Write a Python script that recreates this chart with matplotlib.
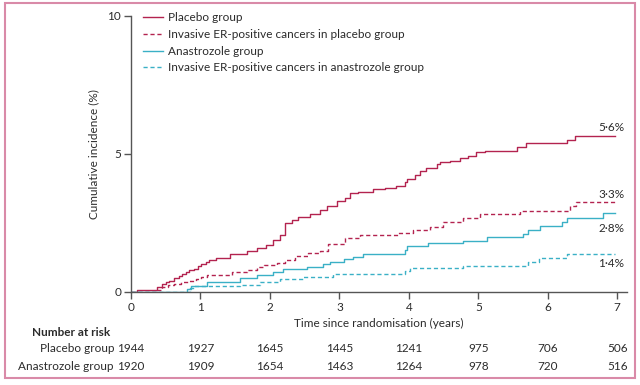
import matplotlib
matplotlib.use("Agg")
import matplotlib.pyplot as plt
import matplotlib.transforms as mtransforms
from matplotlib.patches import Rectangle

plt.rcParams['font.family'] = ['Lato', 'DejaVu Sans']

# ---- data ----
placebo_t = [0, 0.08, 0.38, 0.44, 0.51, 0.55, 0.62, 0.69, 0.74, 0.79, 0.84, 0.91, 0.96, 1.01, 1.08, 1.13,
             1.22, 1.43, 1.67, 1.81, 1.94, 2.05, 2.15, 2.22, 2.32, 2.41, 2.58, 2.72, 2.82, 2.96, 3.08,
             3.15, 3.27, 3.49, 3.66, 3.82, 3.94, 3.98, 4.09, 4.16, 4.25, 4.40, 4.45, 4.59, 4.73, 4.85,
             4.97, 5.09, 5.55, 5.69, 6.27, 6.39, 6.97]
placebo_v = [0, 0.06, 0.19, 0.29, 0.36, 0.41, 0.50, 0.59, 0.65, 0.71, 0.79, 0.85, 0.93, 1.00, 1.09, 1.16,
             1.23, 1.37, 1.49, 1.59, 1.71, 1.90, 2.08, 2.50, 2.62, 2.72, 2.84, 2.96, 3.12, 3.30, 3.42,
             3.58, 3.64, 3.72, 3.78, 3.85, 4.00, 4.09, 4.24, 4.38, 4.48, 4.63, 4.72, 4.75, 4.84, 4.93,
             5.06, 5.12, 5.27, 5.39, 5.52, 5.66, 5.66]

placebo_er_t = [0, 0.38, 0.44, 0.53, 0.62, 0.72, 0.84, 0.94, 1.01, 1.10, 1.45, 1.67, 1.81, 1.91, 2.10,
                2.22, 2.36, 2.55, 2.72, 2.84, 3.08, 3.29, 3.85, 4.06, 4.30, 4.49, 4.78, 5.02, 5.60,
                6.32, 6.41, 6.97]
placebo_er_v = [0, 0.07, 0.17, 0.24, 0.29, 0.36, 0.41, 0.47, 0.53, 0.61, 0.72, 0.81, 0.89, 0.99, 1.05,
                1.17, 1.30, 1.42, 1.50, 1.74, 1.94, 2.07, 2.15, 2.25, 2.37, 2.52, 2.67, 2.81, 2.93,
                3.12, 3.27, 3.27]

anas_t = [0, 0.80, 0.86, 1.10, 1.57, 1.81, 2.05, 2.19, 2.53, 2.77, 2.87, 3.06, 3.20, 3.34, 3.94, 3.98,
          4.28, 4.78, 5.12, 5.64, 5.72, 5.89, 6.20, 6.27, 6.80, 6.97]
anas_v = [0, 0.12, 0.23, 0.36, 0.49, 0.62, 0.72, 0.84, 0.92, 1.02, 1.10, 1.19, 1.28, 1.38, 1.52, 1.68,
          1.76, 1.86, 1.99, 2.10, 2.23, 2.40, 2.52, 2.68, 2.86, 2.86]

anas_er_t = [0, 0.85, 0.90, 1.57, 1.86, 2.14, 2.48, 2.91, 3.95, 4.02, 4.78, 5.72, 5.88, 6.27, 6.97]
anas_er_v = [0, 0.13, 0.20, 0.27, 0.36, 0.48, 0.56, 0.66, 0.76, 0.88, 0.95, 1.10, 1.24, 1.38, 1.38]

end_labels = ["5·6%", "3·3%", "2·8%", "1·4%"]
end_label_y = [5.95, 3.55, 2.3, 1.05]

risk_years = [0, 1, 2, 3, 4, 5, 6, 7]
risk_placebo = [1944, 1927, 1645, 1445, 1241, 975, 706, 506]
risk_anas = [1920, 1909, 1654, 1463, 1264, 978, 720, 516]

legend_labels = ["Placebo group",
                 "Invasive ER-positive cancers in placebo group",
                 "Anastrozole group",
                 "Invasive ER-positive cancers in anastrozole group"]

RED = '#b3234f'
CYAN = '#3ab0c6'
TXT = '#2b2b2b'
AX = '#555555'
W, H = 640, 385
FS = 8.5

fig = plt.figure(figsize=(6.4, 3.85), dpi=100)
ax = fig.add_axes([131 / W, 1 - 292 / H, 496 / W, 276 / H])

lw = 1.0
ax.plot(placebo_t, placebo_v, drawstyle='steps-post', color=RED, lw=lw, label=legend_labels[0])
ax.plot(placebo_er_t, placebo_er_v, drawstyle='steps-post', color=RED, lw=lw, ls=(0, (3, 2)),
        label=legend_labels[1])
ax.plot(anas_t, anas_v, drawstyle='steps-post', color=CYAN, lw=lw, label=legend_labels[2])
ax.plot(anas_er_t, anas_er_v, drawstyle='steps-post', color=CYAN, lw=lw, ls=(0, (3, 2)),
        label=legend_labels[3])

ax.set_xlim(0, 7.14)
ax.set_ylim(0, 10)
ax.set_xticks(range(8))
ax.set_yticks([0, 5, 10])
for s in ['top', 'right']:
    ax.spines[s].set_visible(False)
for s in ['left', 'bottom']:
    ax.spines[s].set_color(AX)
    ax.spines[s].set_linewidth(1.0)
ax.tick_params(direction='out', length=5, width=1.0, color=AX, labelsize=FS, labelcolor=TXT, pad=2)
ax.set_xlabel("Time since randomisation (years)", fontsize=FS, color=TXT, labelpad=4)
ax.set_ylabel("Cumulative incidence (%)", fontsize=FS, color=TXT, labelpad=6)

leg = ax.legend(loc='upper left', bbox_to_anchor=(0.024, 1.013), frameon=False, fontsize=FS,
                handlelength=1.7, handletextpad=0.42, labelspacing=0.48, borderaxespad=0,
                borderpad=0)
for t in leg.get_texts():
    t.set_color(TXT)

for lab, yv in zip(end_labels, end_label_y):
    ax.text(7.1, yv, lab, ha='right', va='center', fontsize=FS, color=TXT)

# Number at risk table
trans = mtransforms.blended_transform_factory(ax.transData, fig.transFigure)
fig.text(32 / W, 1 - 333 / H, "Number at risk", ha='left', va='center', fontsize=FS,
         fontweight='bold', color=TXT)
fig.text(114 / W, 1 - 349 / H, "Placebo group", ha='right', va='center', fontsize=FS, color=TXT)
fig.text(114 / W, 1 - 366 / H, "Anastrozole group", ha='right', va='center', fontsize=FS, color=TXT)
for yr, a, b in zip(risk_years, risk_placebo, risk_anas):
    ax.text(yr, 1 - 349 / H, str(a), transform=trans, ha='center', va='center', fontsize=FS, color=TXT)
    ax.text(yr, 1 - 366 / H, str(b), transform=trans, ha='center', va='center', fontsize=FS, color=TXT)

# pink frame
fig.patches.append(Rectangle((5 / W, 1 - 378 / H), 630 / W, 375 / H, transform=fig.transFigure,
                             fill=False, edgecolor='#d98aa8', lw=1.5))

fig.savefig("out.png", dpi=100)
